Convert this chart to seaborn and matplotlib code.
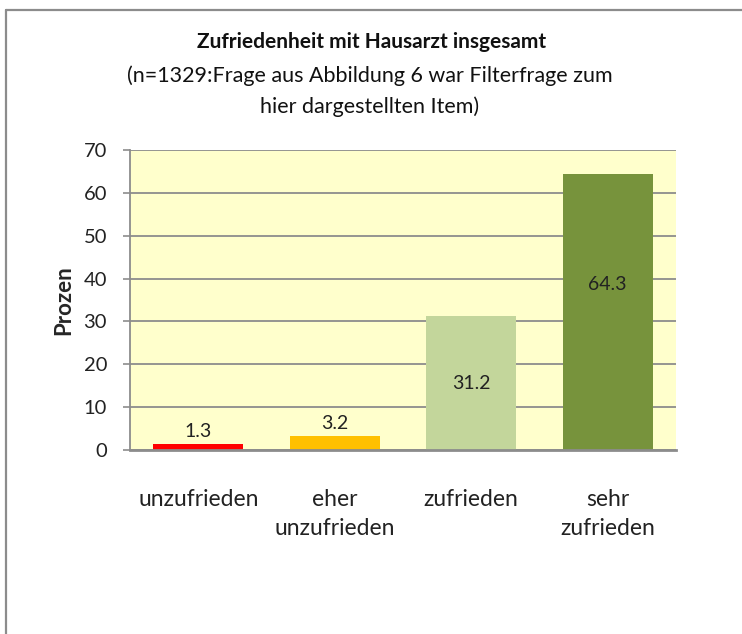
import matplotlib
matplotlib.use("Agg")
import matplotlib.pyplot as plt
import seaborn as sns
import pandas as pd
from matplotlib.lines import Line2D

categories = ["unzufrieden", "eher\nunzufrieden", "zufrieden", "sehr\nzufrieden"]
values = [1.3, 3.2, 31.2, 64.3]
colors = ["#FF0000", "#FFC000", "#C3D69B", "#77933C"]
yticks = [0, 10, 20, 30, 40, 50, 60, 70]
title = "Zufriedenheit mit Hausarzt insgesamt"
subtitle = "(n=1329:Frage aus Abbildung 6 war Filterfrage zum\nhier dargestellten Item)"
ylabel = "Prozen"

sns.set_theme(style="white")
plt.rcParams['font.family'] = ['Lato', 'DejaVu Sans']

df = pd.DataFrame({"cat": categories, "val": values})

fig = plt.figure(figsize=(7.42, 6.34), dpi=100)
ax = fig.add_axes([130/742, 1-450/634, 546/742, 300/634])
ax.set_facecolor("#FFFFCC")
ax.set_axisbelow(True)
sns.barplot(data=df, x="cat", y="val", hue="cat", palette=colors, legend=False,
            width=0.66, saturation=1, linewidth=0, ax=ax)

ax.set_ylim(0, 70)
ax.set_yticks(yticks)
ax.set_yticklabels([str(t) for t in yticks], fontsize=14.5, color="#222222")
ax.yaxis.grid(True, color="#8C8C8C", linewidth=1.3)
ax.tick_params(axis="y", which="both", left=True, length=5, width=1.2, color="#8C8C8C", pad=11.5, labelcolor="#222222")
ax.tick_params(axis="x", bottom=False, labelsize=16.5, pad=22, labelcolor="#222222")
for lbl in ax.get_xticklabels():
    lbl.set_linespacing(1.45)
for s in ["top", "right"]:
    ax.spines[s].set_visible(False)
ax.spines["left"].set_color("#8C8C8C")
ax.spines["left"].set_linewidth(1.3)
ax.spines["bottom"].set_color("#8C8C8C")
ax.spines["bottom"].set_linewidth(2)
ax.set_xlabel("")
ax.set_ylabel(ylabel, fontsize=16, fontweight="bold", labelpad=7)

# value labels
for i, v in enumerate(values):
    if v < 10:
        ax.annotate(f"{v}", (i, v), xytext=(0, 3), textcoords="offset points",
                    ha="center", va="bottom", fontsize=14, color="#222222")
    elif v < 50:
        ax.text(i, v / 2, f"{v}", ha="center", va="center", fontsize=14, color="#222222")
    else:
        ax.text(i, v * 0.6, f"{v}", ha="center", va="center", fontsize=14, color="#222222")

fig.text(372/742, 1-42/634, title, ha="center", va="center", fontsize=15, fontweight="bold", color="#111111")
fig.text(370/742, 1-91/634, subtitle, ha="center", va="center", fontsize=15.5, linespacing=1.6, color="#111111")

# outer frame (top and left)
fig.add_artist(Line2D([5.5/742, 5.5/742], [0, 1-9.5/634], transform=fig.transFigure, color="#8C8C8C", linewidth=1.6))
fig.add_artist(Line2D([5.5/742, 1], [1-9.5/634, 1-9.5/634], transform=fig.transFigure, color="#8C8C8C", linewidth=1.6))

fig.savefig("out.png", dpi=100)
